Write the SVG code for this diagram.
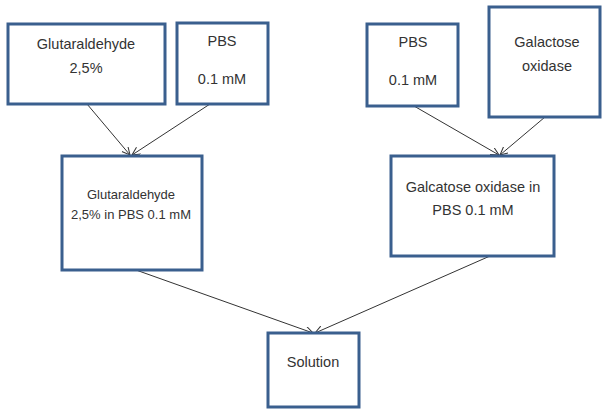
<svg xmlns="http://www.w3.org/2000/svg" width="603" height="415" viewBox="0 0 603 415">
<style>
.box{fill:#fff;stroke:#3a5f8e;stroke-width:3}
.t{font-family:"Liberation Sans",Arial,sans-serif;font-size:14.5px;fill:#333;text-anchor:middle}
.s{font-size:13px}
.c{stroke:#333;stroke-width:1;fill:none;marker-end:url(#a)}
</style>
<defs>
<marker id="a" markerWidth="10" markerHeight="10" refX="8" refY="4" orient="auto" markerUnits="userSpaceOnUse">
<path d="M0,0 L8,4 L0,8" fill="none" stroke="#333" stroke-width="1"/>
</marker>
</defs>
<rect width="603" height="415" fill="#fff"/>
<g id="connectors">
<line class="c" x1="87" y1="104" x2="130" y2="155"/>
<line class="c" x1="210" y1="104" x2="132" y2="155"/>
<line class="c" x1="414" y1="106" x2="499" y2="155"/>
<line class="c" x1="545" y1="117" x2="500" y2="155"/>
<line class="c" x1="136" y1="270" x2="313" y2="333"/>
<line class="c" x1="490" y1="256" x2="315" y2="333"/>
</g>
<g id="glut">
<rect class="box" x="8" y="24" width="157" height="80"/>
<text class="t" x="86" y="49">Glutaraldehyde</text>
<text class="t" x="86" y="73">2,5%</text>
</g>
<g id="pbs1">
<rect class="box" x="177" y="23" width="91" height="81"/>
<text class="t" x="222" y="46">PBS</text>
<text class="t" x="222" y="84">0.1 mM</text>
</g>
<g id="pbs2">
<rect class="box" x="367" y="24" width="91" height="82"/>
<text class="t" x="413" y="47">PBS</text>
<text class="t" x="413" y="85">0.1 mM</text>
</g>
<g id="galox">
<rect class="box" x="489" y="7" width="111" height="110"/>
<text class="t" x="547" y="47">Galactose</text>
<text class="t" x="547" y="71">oxidase</text>
</g>
<g id="glutpbs">
<rect class="box" x="62" y="156" width="140" height="114"/>
<text class="t s" x="131" y="199">Glutaraldehyde</text>
<text class="t s" x="131" y="219">2,5% in PBS 0.1 mM</text>
</g>
<g id="galpbs">
<rect class="box" x="391" y="156" width="163" height="100"/>
<text class="t" x="473" y="192">Galcatose oxidase in</text>
<text class="t" x="473" y="215">PBS 0.1 mM</text>
</g>
<g id="solution">
<rect class="box" x="268" y="333" width="91" height="74"/>
<text class="t" x="313" y="367">Solution</text>
</g>
</svg>
